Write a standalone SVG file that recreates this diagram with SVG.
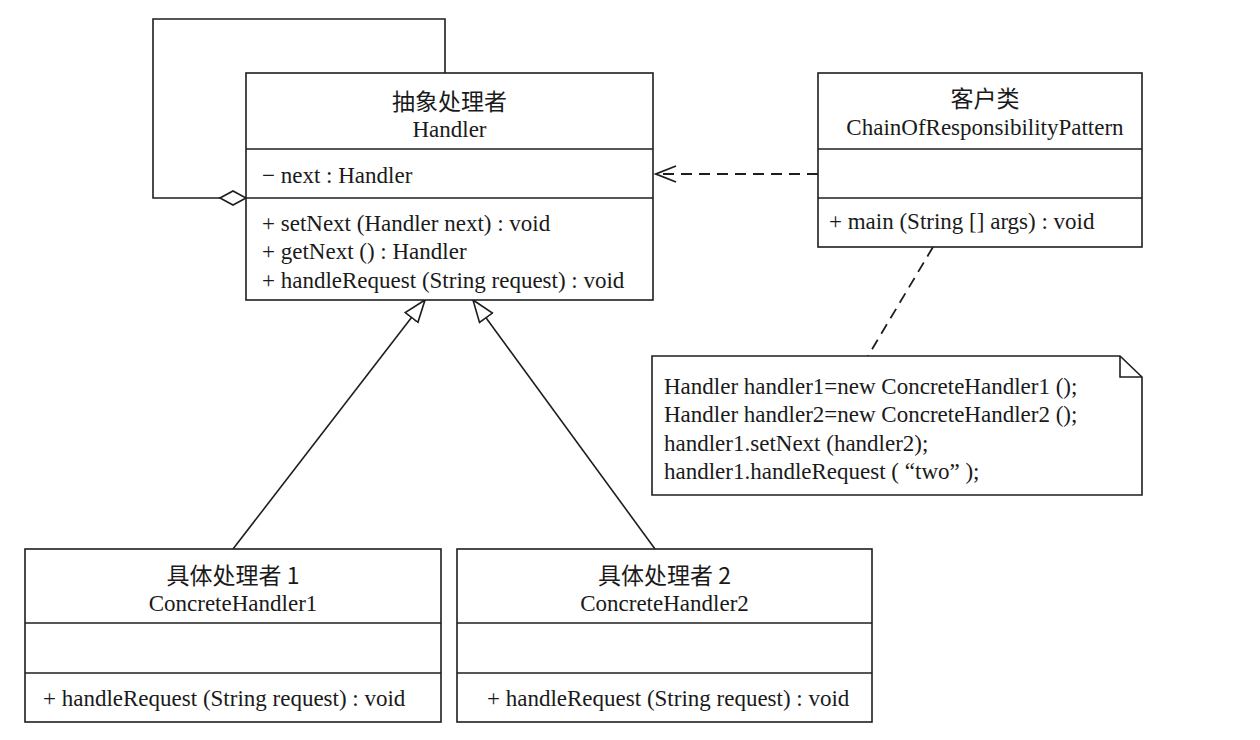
<svg xmlns="http://www.w3.org/2000/svg" width="1260" height="740" viewBox="0 0 1260 740">
<defs>
<style>
.box{fill:#fff;stroke:#1e1e1e;stroke-width:1.6}
.ln{fill:none;stroke:#1e1e1e;stroke-width:1.6}
.dash{fill:none;stroke:#1e1e1e;stroke-width:1.8;stroke-dasharray:11,7}
.t{font-family:"Liberation Serif","Noto Sans CJK SC",serif;font-size:23px;fill:#1a1a1a}
.cn{font-family:"Noto Sans CJK SC","Liberation Serif",serif;font-size:23px;fill:#1a1a1a}
.c{text-anchor:middle}
</style>
<marker id="tri" markerWidth="24" markerHeight="24" viewBox="0 0 24 24" refX="23" refY="12" orient="auto" markerUnits="userSpaceOnUse">
<path d="M23,12 L1,4 L1,20 Z" fill="#fff" stroke="#1e1e1e" stroke-width="1.6"/>
</marker>
<marker id="open" markerWidth="24" markerHeight="24" viewBox="0 0 24 24" refX="22" refY="12" orient="auto" markerUnits="userSpaceOnUse">
<path d="M2,4 L22,12 L2,20" fill="none" stroke="#1e1e1e" stroke-width="1.8"/>
</marker>
</defs>
<rect width="1260" height="740" fill="#fff"/>

<g id="connectors">
<path class="ln" d="M445,73 V19 H153 V198 H220"/>
<path d="M220,198 L233,191 L246,198 L233,205 Z" fill="#fff" stroke="#1e1e1e" stroke-width="1.6"/>
<line class="ln" x1="233" y1="549" x2="425" y2="300" marker-end="url(#tri)"/>
<line class="ln" x1="655" y1="549" x2="473" y2="300" marker-end="url(#tri)"/>
<line class="dash" x1="818" y1="174" x2="656" y2="174" marker-end="url(#open)"/>
<line class="dash" x1="933" y1="247" x2="868" y2="356"/>
</g>

<g id="handler">
<rect class="box" x="246" y="73" width="407" height="227"/>
<line class="ln" x1="246" y1="149" x2="653" y2="149"/>
<line class="ln" x1="246" y1="198" x2="653" y2="198"/>
<text class="cn c" x="449.5" y="110">抽象处理者</text>
<text class="t c" x="449.5" y="137">Handler</text>
<text class="t" x="262" y="183">− next : Handler</text>
<text class="t" x="262" y="231">+ setNext (Handler next) : void</text>
<text class="t" x="262" y="259">+ getNext () : Handler</text>
<text class="t" x="262" y="288">+ handleRequest (String request) : void</text>
</g>

<g id="client">
<rect class="box" x="818" y="73" width="324" height="174"/>
<line class="ln" x1="818" y1="149" x2="1142" y2="149"/>
<line class="ln" x1="818" y1="198" x2="1142" y2="198"/>
<text class="cn c" x="985" y="107">客户类</text>
<text class="t c" x="985" y="135">ChainOfResponsibilityPattern</text>
<text class="t" x="829" y="229">+ main (String [] args) : void</text>
</g>

<g id="note">
<path class="box" d="M652,356 H1120 L1142,377 V495 H652 Z"/>
<path class="ln" d="M1120,356 V377 H1142"/>
<text class="t" x="664" y="394">Handler handler1=new ConcreteHandler1 ();</text>
<text class="t" x="664" y="422">Handler handler2=new ConcreteHandler2 ();</text>
<text class="t" x="664" y="451">handler1.setNext (handler2);</text>
<text class="t" x="664" y="479">handler1.handleRequest ( “two” );</text>
</g>

<g id="concrete1">
<rect class="box" x="25" y="549" width="416" height="173"/>
<line class="ln" x1="25" y1="623" x2="441" y2="623"/>
<line class="ln" x1="25" y1="673" x2="441" y2="673"/>
<text class="cn c" x="233" y="584">具体处理者 1</text>
<text class="t c" x="233" y="611">ConcreteHandler1</text>
<text class="t" x="43" y="706">+ handleRequest (String request) : void</text>
</g>

<g id="concrete2">
<rect class="box" x="457" y="549" width="415" height="173"/>
<line class="ln" x1="457" y1="623" x2="872" y2="623"/>
<line class="ln" x1="457" y1="673" x2="872" y2="673"/>
<text class="cn c" x="664.5" y="584">具体处理者 2</text>
<text class="t c" x="664.5" y="611">ConcreteHandler2</text>
<text class="t" x="487" y="706">+ handleRequest (String request) : void</text>
</g>
</svg>
